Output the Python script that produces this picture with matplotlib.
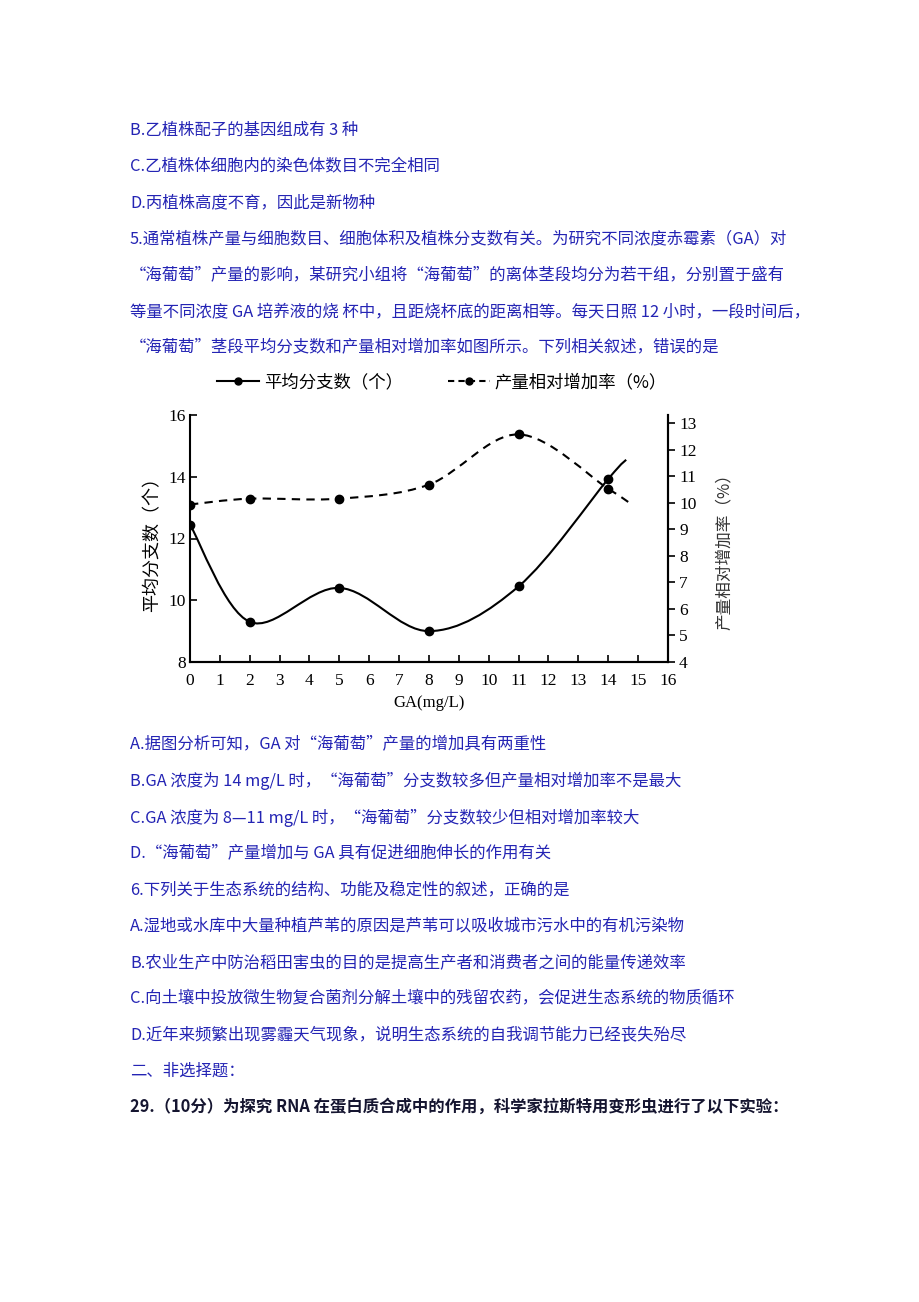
import matplotlib
matplotlib.use("Agg")
import matplotlib.pyplot as plt
from matplotlib.path import Path
from matplotlib.patches import PathPatch
from matplotlib.lines import Line2D

plt.rcParams['font.family'] = ['Noto Sans CJK SC', 'DejaVu Sans']

# data
ga = [0, 2, 5, 8, 11, 14]
branches = [12.45, 9.3, 10.4, 9.0, 10.45, 13.93]      # 平均分支数 (left axis)
branch_tail = (14.6, 14.55)
growth = [9.93, 10.15, 10.15, 10.68, 12.57, 10.52]    # 产量相对增加率 (right axis)
growth_tail = (14.7, 10.0)
x_ticks = list(range(0, 17))
left_ticks = [8, 10, 12, 14, 16]
right_ticks = list(range(4, 14))

lines_top = [
    "B.乙植株配子的基因组成有 3 种",
    "C.乙植株体细胞内的染色体数目不完全相同",
    "D.丙植株高度不育，因此是新物种",
    "5.通常植株产量与细胞数目、细胞体积及植株分支数有关。为研究不同浓度赤霉素（GA）对",
    "“海葡萄”产量的影响，某研究小组将“海葡萄”的离体茎段均分为若干组，分别置于盛有",
    "等量不同浓度 GA 培养液的烧 杯中，且距烧杯底的距离相等。每天日照 12 小时，一段时间后，",
    "“海葡萄”茎段平均分支数和产量相对增加率如图所示。下列相关叙述，错误的是",
]
lines_bottom = [
    "A.据图分析可知，GA 对“海葡萄”产量的增加具有两重性",
    "B.GA 浓度为 14 mg/L 时，“海葡萄”分支数较多但产量相对增加率不是最大",
    "C.GA 浓度为 8—11 mg/L 时，“海葡萄”分支数较少但相对增加率较大",
    "D.“海葡萄”产量增加与 GA 具有促进细胞伸长的作用有关",
    "6.下列关于生态系统的结构、功能及稳定性的叙述，正确的是",
    "A.湿地或水库中大量种植芦苇的原因是芦苇可以吸收城市污水中的有机污染物",
    "B.农业生产中防治稻田害虫的目的是提高生产者和消费者之间的能量传递效率",
    "C.向土壤中投放微生物复合菌剂分解土壤中的残留农药，会促进生态系统的物质循环",
    "D.近年来频繁出现雾霾天气现象，说明生态系统的自我调节能力已经丧失殆尽",
    "二、非选择题：",
]
last_line = "29.（10分）为探究 RNA 在蛋白质合成中的作用，科学家拉斯特用变形虫进行了以下实验："

W, H = 920, 1302
fig = plt.figure(figsize=(W / 100, H / 100), dpi=100)
blue = '#2424b4'


def px(x, y):
    return x / W, 1 - y / H


for i, t in enumerate(lines_top):
    fig.text(*px(130, 130 + i * 36.3), t, color=blue, fontsize=11.8, va='center')
for i, t in enumerate(lines_bottom):
    fig.text(*px(130, 745 + i * 36.2), t, color=blue, fontsize=11.8, va='center')
fig.text(*px(130, 1107), last_line, color='#151530', fontsize=11.8, va='center',
         fontweight='bold')


def smooth(xs, ys):
    # catmull-rom through the points, drawn as cubic bezier segments
    pts = list(zip(xs, ys))
    verts = [pts[0]]
    codes = [Path.MOVETO]
    n = len(pts)
    for i in range(n - 1):
        p0 = pts[i - 1] if i > 0 else pts[i]
        p1, p2 = pts[i], pts[i + 1]
        p3 = pts[i + 2] if i + 2 < n else pts[i + 1]
        c1 = (p1[0] + (p2[0] - p0[0]) / 6, p1[1] + (p2[1] - p0[1]) / 6)
        c2 = (p2[0] - (p3[0] - p1[0]) / 6, p2[1] - (p3[1] - p1[1]) / 6)
        verts += [c1, c2, p2]
        codes += [Path.CURVE4] * 3
    return Path(verts, codes)


left, right, top, bottom = 190, 668, 415, 662
ax = fig.add_axes([left / W, 1 - bottom / H, (right - left) / W, (bottom - top) / H])
ax2 = ax.twinx()

ax.set_xlim(0, 16)
ax.set_ylim(8, 16)
ax2.set_ylim(4, 13.3)

serif = 'Liberation Serif'
ax.set_xticks(x_ticks)
ax.set_xticklabels([str(v) for v in x_ticks], fontfamily=serif, fontsize=12.5)
ax.set_yticks(left_ticks)
ax.set_yticklabels([str(v) for v in left_ticks], fontfamily=serif, fontsize=12.5)
ax2.set_yticks(right_ticks)
ax2.set_yticklabels([str(v) for v in right_ticks], fontfamily=serif, fontsize=12.5)
ax.tick_params(axis='x', direction='in', length=5, width=1.2, pad=8)
ax.tick_params(axis='y', direction='in', length=5, width=1.2, pad=3)
ax2.tick_params(axis='y', direction='out', length=5, width=1.2, pad=3)

for a in (ax, ax2):
    a.spines['top'].set_visible(False)
    for s in ('left', 'right', 'bottom'):
        a.spines[s].set_linewidth(1.5)
ax2.spines['left'].set_visible(False)

ax.add_patch(PathPatch(smooth(ga + [branch_tail[0]], branches + [branch_tail[1]]),
                       facecolor='none', edgecolor='black', lw=1.5))
ax.plot(ga, branches, 'o', color='black', ms=6, zorder=5)
ax2.add_patch(PathPatch(smooth(ga + [growth_tail[0]], growth + [growth_tail[1]]),
                        facecolor='none', edgecolor='black', lw=1.5, ls=(0, (4, 3))))
ax2.plot(ga, growth, 'o', color='black', ms=6, zorder=5)

ax.set_xlabel('GA(mg/L)', fontfamily=serif, fontsize=12, labelpad=4)
fig.text(*px(152, 540), '平均分支数（个）', rotation=90, fontsize=13,
         ha='center', va='center')
fig.text(*px(724, 548), '产量相对增加率（%）', rotation=90, fontsize=12,
         ha='center', va='center', color='#333333')

# legend drawn as a row at the top of the chart
handles = [Line2D([], [], color='black', lw=1.5, marker='o', ms=5),
           Line2D([], [], color='black', lw=1.5, ls=(0, (3, 2)), marker='o', ms=5)]
fig.legend(handles, ['平均分支数（个）', '产量相对增加率（%）'], loc='center',
           bbox_to_anchor=(px(442, 382)), ncol=2, frameon=False, fontsize=12.5,
           handlelength=2.4, columnspacing=2.6, handletextpad=0.3)

fig.savefig('out.png', dpi=100)
